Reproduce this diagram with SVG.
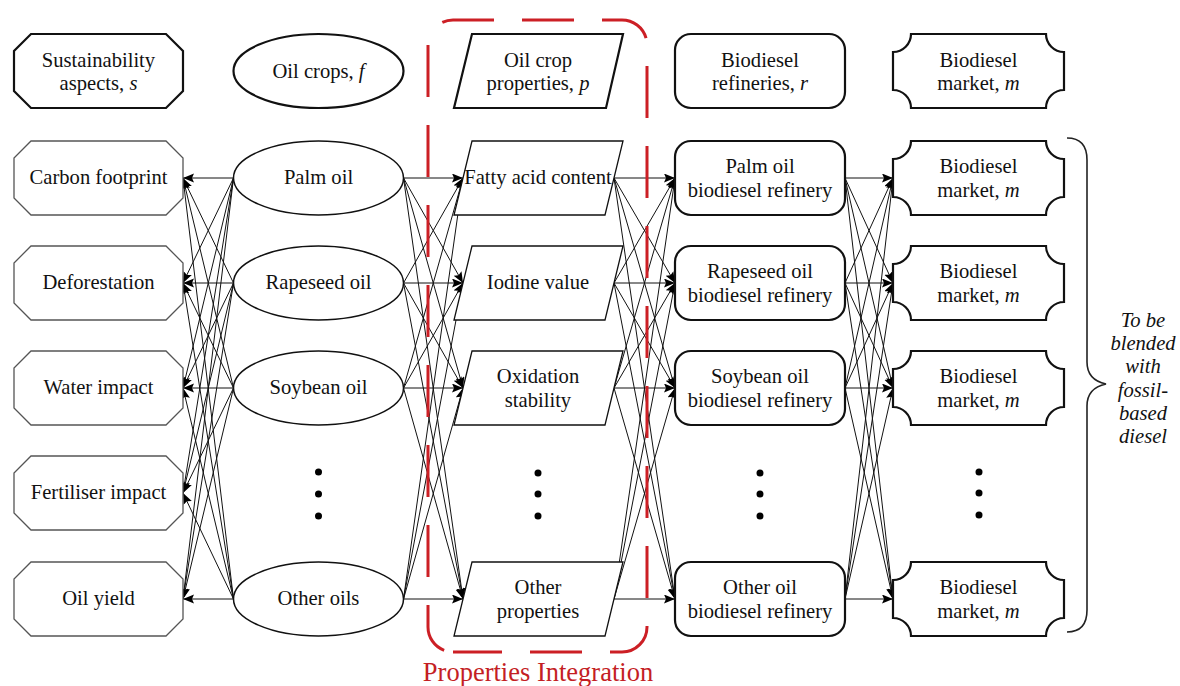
<svg xmlns="http://www.w3.org/2000/svg" width="1180" height="686" viewBox="0 0 1180 686">
<defs>
<style>
.t{font-family:"Liberation Serif","Times New Roman",serif;font-size:20.6px;fill:#111;text-anchor:middle}
.i{font-style:italic}
.hb{fill:#fff;stroke:#111;stroke-width:2.2}
.oct{fill:#fff;stroke:#555;stroke-width:1.3}
.ell{fill:#fff;stroke:#111;stroke-width:1.5}
.par{fill:#fff;stroke:#111;stroke-width:1.3}
.ref{fill:#fff;stroke:#111;stroke-width:2.2}
.mkt{fill:#fff;stroke:#111;stroke-width:2.2}
.c line{stroke:#111;stroke-width:1;marker-end:url(#ah)}
.dot{fill:#000}
.red{fill:none;stroke:#cc1f25;stroke-width:3;stroke-dasharray:52 28}
</style>
<marker id="ah" markerWidth="12" markerHeight="10" refX="11" refY="4.5" orient="auto" markerUnits="userSpaceOnUse">
<path d="M0,0 L11,4.5 L0,9 L2,4.5 z" fill="#000"/>
</marker>
</defs>
<rect width="1180" height="686" fill="#fff"/>

<g id="connectors" class="c">
<line x1="233.5" y1="178" x2="183" y2="178"/><line x1="233.5" y1="178" x2="183" y2="283"/><line x1="233.5" y1="178" x2="183" y2="388"/><line x1="233.5" y1="178" x2="183" y2="493"/><line x1="233.5" y1="178" x2="183" y2="599"/>
<line x1="233.5" y1="283" x2="183" y2="178"/><line x1="233.5" y1="283" x2="183" y2="283"/><line x1="233.5" y1="283" x2="183" y2="388"/><line x1="233.5" y1="283" x2="183" y2="493"/><line x1="233.5" y1="283" x2="183" y2="599"/>
<line x1="233.5" y1="388" x2="183" y2="178"/><line x1="233.5" y1="388" x2="183" y2="283"/><line x1="233.5" y1="388" x2="183" y2="388"/><line x1="233.5" y1="388" x2="183" y2="493"/><line x1="233.5" y1="388" x2="183" y2="599"/>
<line x1="233.5" y1="599" x2="183" y2="178"/><line x1="233.5" y1="599" x2="183" y2="283"/><line x1="233.5" y1="599" x2="183" y2="388"/><line x1="233.5" y1="599" x2="183" y2="493"/><line x1="233.5" y1="599" x2="183" y2="599"/>

<line x1="403.5" y1="178" x2="463" y2="178"/><line x1="403.5" y1="178" x2="463" y2="283"/><line x1="403.5" y1="178" x2="463" y2="388"/><line x1="403.5" y1="178" x2="463" y2="599"/>
<line x1="403.5" y1="283" x2="463" y2="178"/><line x1="403.5" y1="283" x2="463" y2="283"/><line x1="403.5" y1="283" x2="463" y2="388"/><line x1="403.5" y1="283" x2="463" y2="599"/>
<line x1="403.5" y1="388" x2="463" y2="178"/><line x1="403.5" y1="388" x2="463" y2="283"/><line x1="403.5" y1="388" x2="463" y2="388"/><line x1="403.5" y1="388" x2="463" y2="599"/>
<line x1="403.5" y1="599" x2="463" y2="178"/><line x1="403.5" y1="599" x2="463" y2="283"/><line x1="403.5" y1="599" x2="463" y2="388"/><line x1="403.5" y1="599" x2="463" y2="599"/>

<line x1="614" y1="178" x2="675" y2="178"/><line x1="614" y1="178" x2="675" y2="283"/><line x1="614" y1="178" x2="675" y2="388"/><line x1="614" y1="178" x2="675" y2="599"/>
<line x1="614" y1="283" x2="675" y2="178"/><line x1="614" y1="283" x2="675" y2="283"/><line x1="614" y1="283" x2="675" y2="388"/><line x1="614" y1="283" x2="675" y2="599"/>
<line x1="614" y1="388" x2="675" y2="178"/><line x1="614" y1="388" x2="675" y2="283"/><line x1="614" y1="388" x2="675" y2="388"/><line x1="614" y1="388" x2="675" y2="599"/>
<line x1="614" y1="599" x2="675" y2="178"/><line x1="614" y1="599" x2="675" y2="283"/><line x1="614" y1="599" x2="675" y2="388"/><line x1="614" y1="599" x2="675" y2="599"/>

<line x1="845" y1="178" x2="893" y2="178"/><line x1="845" y1="178" x2="893" y2="283"/><line x1="845" y1="178" x2="893" y2="388"/><line x1="845" y1="178" x2="893" y2="599"/>
<line x1="845" y1="283" x2="893" y2="178"/><line x1="845" y1="283" x2="893" y2="283"/><line x1="845" y1="283" x2="893" y2="388"/><line x1="845" y1="283" x2="893" y2="599"/>
<line x1="845" y1="388" x2="893" y2="178"/><line x1="845" y1="388" x2="893" y2="283"/><line x1="845" y1="388" x2="893" y2="388"/><line x1="845" y1="388" x2="893" y2="599"/>
<line x1="845" y1="599" x2="893" y2="178"/><line x1="845" y1="599" x2="893" y2="283"/><line x1="845" y1="599" x2="893" y2="388"/><line x1="845" y1="599" x2="893" y2="599"/>
</g>

<!-- Header row -->
<g id="h-sustainability">
<polygon class="hb" points="31,34 166,34 183,51 183,91 166,108 31,108 14,91 14,51"/>
<text class="t" x="98.5" y="67">Sustainability</text>
<text class="t" x="98.5" y="90">aspects, <tspan class="i">s</tspan></text>
</g>
<g id="h-oilcrops">
<ellipse class="hb" cx="318.5" cy="71" rx="85" ry="37"/>
<text class="t" x="318.5" y="78">Oil crops, <tspan class="i">f</tspan></text>
</g>
<g id="h-properties">
<polygon class="hb" points="472,34 623,34 606,108 454,108"/>
<text class="t" x="538" y="67">Oil crop</text>
<text class="t" x="538" y="90">properties, <tspan class="i">p</tspan></text>
</g>
<g id="h-refineries">
<rect class="hb" x="675" y="34" width="170" height="74" rx="16"/>
<text class="t" x="760" y="67">Biodiesel</text>
<text class="t" x="760" y="90">refineries, <tspan class="i">r</tspan></text>
</g>
<g id="h-market">
<path class="hb" d="M911,34 H1046 A18,18 0 0 0 1064,52 V90 A18,18 0 0 0 1046,108 H911 A18,18 0 0 0 893,90 V52 A18,18 0 0 0 911,34 Z"/>
<text class="t" x="978.5" y="67">Biodiesel</text>
<text class="t" x="978.5" y="90">market, <tspan class="i">m</tspan></text>
</g>

<!-- Sustainability aspects -->
<g id="s-carbon"><polygon class="oct" points="31,141 166,141 183,158 183,198 166,215 31,215 14,198 14,158"/><text class="t" x="98.5" y="184">Carbon footprint</text></g>
<g id="s-deforestation"><polygon class="oct" points="31,246 166,246 183,263 183,303 166,320 31,320 14,303 14,263"/><text class="t" x="98.5" y="289">Deforestation</text></g>
<g id="s-water"><polygon class="oct" points="31,351 166,351 183,368 183,408 166,425 31,425 14,408 14,368"/><text class="t" x="98.5" y="394">Water impact</text></g>
<g id="s-fertiliser"><polygon class="oct" points="31,456 166,456 183,473 183,513 166,530 31,530 14,513 14,473"/><text class="t" x="98.5" y="499">Fertiliser impact</text></g>
<g id="s-oilyield"><polygon class="oct" points="31,562 166,562 183,579 183,619 166,636 31,636 14,619 14,579"/><text class="t" x="98.5" y="605">Oil yield</text></g>

<!-- Oil crops -->
<g id="f-palm"><ellipse class="ell" cx="318.5" cy="178" rx="85" ry="37"/><text class="t" x="318.5" y="184">Palm oil</text></g>
<g id="f-rapeseed"><ellipse class="ell" cx="318.5" cy="283" rx="85" ry="37"/><text class="t" x="318.5" y="289">Rapeseed oil</text></g>
<g id="f-soybean"><ellipse class="ell" cx="318.5" cy="388" rx="85" ry="37"/><text class="t" x="318.5" y="394">Soybean oil</text></g>
<g id="f-dots"><circle class="dot" cx="318.5" cy="472" r="3.5"/><circle class="dot" cx="318.5" cy="494" r="3.5"/><circle class="dot" cx="318.5" cy="516" r="3.5"/></g>
<g id="f-other"><ellipse class="ell" cx="318.5" cy="599" rx="85" ry="37"/><text class="t" x="318.5" y="605">Other oils</text></g>

<!-- Properties -->
<g id="p-fatty"><polygon class="par" points="472,141 623,141 605,215 454,215"/><text class="t" x="538" y="184">Fatty acid content</text></g>
<g id="p-iodine"><polygon class="par" points="472,246 623,246 605,320 454,320"/><text class="t" x="538" y="289">Iodine value</text></g>
<g id="p-oxidation"><polygon class="par" points="472,351 623,351 605,425 454,425"/><text class="t" x="538" y="383">Oxidation</text><text class="t" x="538" y="407">stability</text></g>
<g id="p-dots"><circle class="dot" cx="538" cy="473" r="3.5"/><circle class="dot" cx="538" cy="494" r="3.5"/><circle class="dot" cx="538" cy="516" r="3.5"/></g>
<g id="p-other"><polygon class="par" points="472,562 623,562 605,636 454,636"/><text class="t" x="538" y="594">Other</text><text class="t" x="538" y="618">properties</text></g>

<!-- Refineries -->
<g id="r-palm"><rect class="ref" x="675" y="141" width="170" height="74" rx="16"/><text class="t" x="760" y="173">Palm oil</text><text class="t" x="760" y="197">biodiesel refinery</text></g>
<g id="r-rapeseed"><rect class="ref" x="675" y="246" width="170" height="74" rx="16"/><text class="t" x="760" y="278">Rapeseed oil</text><text class="t" x="760" y="302">biodiesel refinery</text></g>
<g id="r-soybean"><rect class="ref" x="675" y="351" width="170" height="74" rx="16"/><text class="t" x="760" y="383">Soybean oil</text><text class="t" x="760" y="407">biodiesel refinery</text></g>
<g id="r-dots"><circle class="dot" cx="760" cy="473" r="3.5"/><circle class="dot" cx="760" cy="494" r="3.5"/><circle class="dot" cx="760" cy="516" r="3.5"/></g>
<g id="r-other"><rect class="ref" x="675" y="562" width="170" height="74" rx="16"/><text class="t" x="760" y="594">Other oil</text><text class="t" x="760" y="618">biodiesel refinery</text></g>

<!-- Markets -->
<g id="m-1"><path class="mkt" d="M911,141 H1046 A18,18 0 0 0 1064,159 V197 A18,18 0 0 0 1046,215 H911 A18,18 0 0 0 893,197 V159 A18,18 0 0 0 911,141 Z"/><text class="t" x="978.5" y="173">Biodiesel</text><text class="t" x="978.5" y="197">market, <tspan class="i">m</tspan></text></g>
<g id="m-2"><path class="mkt" d="M911,246 H1046 A18,18 0 0 0 1064,264 V302 A18,18 0 0 0 1046,320 H911 A18,18 0 0 0 893,302 V264 A18,18 0 0 0 911,246 Z"/><text class="t" x="978.5" y="278">Biodiesel</text><text class="t" x="978.5" y="302">market, <tspan class="i">m</tspan></text></g>
<g id="m-3"><path class="mkt" d="M911,351 H1046 A18,18 0 0 0 1064,369 V407 A18,18 0 0 0 1046,425 H911 A18,18 0 0 0 893,407 V369 A18,18 0 0 0 911,351 Z"/><text class="t" x="978.5" y="383">Biodiesel</text><text class="t" x="978.5" y="407">market, <tspan class="i">m</tspan></text></g>
<g id="m-dots"><circle class="dot" cx="979" cy="472" r="3.5"/><circle class="dot" cx="979" cy="493" r="3.5"/><circle class="dot" cx="979" cy="515" r="3.5"/></g>
<g id="m-4"><path class="mkt" d="M911,562 H1046 A18,18 0 0 0 1064,580 V618 A18,18 0 0 0 1046,636 H911 A18,18 0 0 0 893,618 V580 A18,18 0 0 0 911,562 Z"/><text class="t" x="978.5" y="594">Biodiesel</text><text class="t" x="978.5" y="618">market, <tspan class="i">m</tspan></text></g>

<!-- Brace and note -->
<g id="brace">
<path d="M1067,138 Q1087,138 1087,160 V362 Q1087,380 1106,384 Q1087,388 1087,406 V610 Q1087,632 1067,632" fill="none" stroke="#222" stroke-width="1.6"/>
<text class="t i" x="1143" y="327">To be</text>
<text class="t i" x="1143" y="350">blended</text>
<text class="t i" x="1143" y="373">with</text>
<text class="t i" x="1143" y="397">fossil-</text>
<text class="t i" x="1143" y="420">based</text>
<text class="t i" x="1143" y="443">diesel</text>
</g>

<!-- Properties integration -->
<g id="properties-integration">
<path class="red" d="M428,45 V627 A25,25 0 0 0 453,652"/>
<path class="red" style="stroke-dashoffset:3" d="M453,652 H622 A25,25 0 0 0 647,627"/>
<path class="red" style="stroke-dashoffset:51" d="M647,627 V45 A25,25 0 0 0 622,20"/>
<path class="red" style="stroke-dashoffset:32" d="M622,20 H453 A25,25 0 0 0 428,45"/>
<text x="538" y="681" style="font-family:'Liberation Serif','Times New Roman',serif;font-size:26.5px;fill:#c41e24;text-anchor:middle">Properties Integration</text>
</g>
</svg>
